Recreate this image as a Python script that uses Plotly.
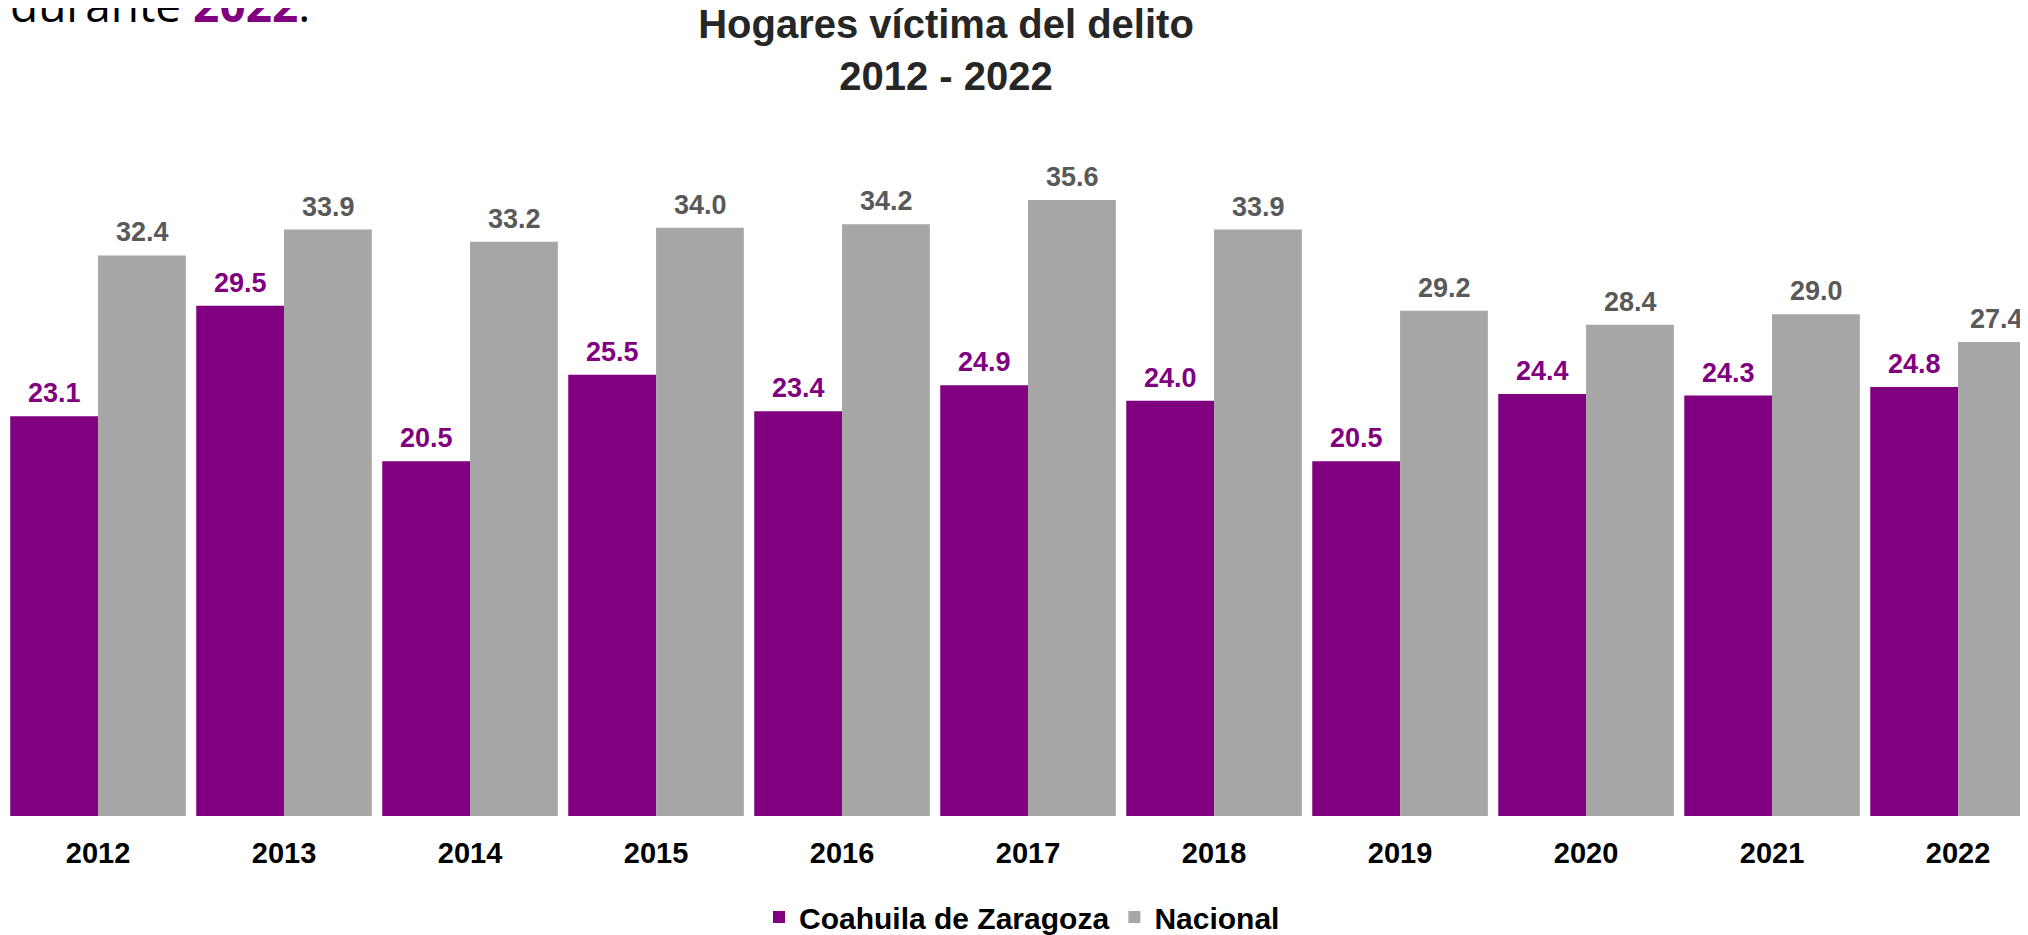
import plotly.graph_objects as go

years = ["2012", "2013", "2014", "2015", "2016", "2017", "2018", "2019", "2020", "2021", "2022"]
coahuila = [23.1, 29.5, 20.5, 25.5, 23.4, 24.9, 24.0, 20.5, 24.4, 24.3, 24.8]
nacional = [32.4, 33.9, 33.2, 34.0, 34.2, 35.6, 33.9, 29.2, 28.4, 29.0, 27.4]
series_names = ["Coahuila de Zaragoza", "Nacional"]

PURPLE = "#800080"
GRAY = "#A6A6A6"
LABEL_GRAY = "#595959"
FONT = "Arial, Liberation Sans, sans-serif"

fig = go.Figure()
fig.add_trace(go.Bar(
    x=years, y=coahuila, name=series_names[0],
    marker=dict(color=PURPLE, line=dict(width=0)),
))
fig.add_trace(go.Bar(
    x=years, y=nacional, name=series_names[1],
    marker=dict(color=GRAY, line=dict(width=0)),
))

annotations = []
for series, shift, color in ((coahuila, -44, PURPLE), (nacional, 44, LABEL_GRAY)):
    n = len(series)
    for i, v in enumerate(series):
        xs = shift
        if shift > 0 and i == n - 1:
            xs = 38  # keep the last label inside the page edge
        annotations.append(dict(
            x=i, y=v, xref="x", yref="y", xshift=xs, yshift=6,
            text=f"<b>{v:.1f}</b>", showarrow=False,
            xanchor="center", yanchor="bottom",
            font=dict(family=FONT, size=27, color=color),
        ))

annotations.append(dict(
    text="durante <b><span style='color:#800080'>2022</span></b>.",
    xref="paper", yref="paper", x=0, y=(818 - 28) / 702,
    xanchor="left", yanchor="bottom", showarrow=False,
    font=dict(family="Open Sans", size=46, color="black"),
))

fig.update_layout(
    width=2028, height=935,
    margin=dict(l=0, r=0, t=116, b=117),
    paper_bgcolor="white", plot_bgcolor="white",
    barmode="group", bargap=0.056, bargroupgap=0,
    title=dict(
        text="<b>Hogares víctima del delito<br>2012 - 2022</b>",
        x=938 / 2028, xanchor="center", xref="container",
        y=1 - 30 / 935, yanchor="top", yref="container",
        font=dict(family=FONT, size=40, color="#262626"),
    ),
    showlegend=True,
    legend=dict(
        orientation="h", x=0.5, xanchor="center", y=-0.1467, yanchor="middle",
        font=dict(family=FONT, size=30, color="black", weight="bold"),
        itemwidth=30, traceorder="normal",
    ),
    xaxis=dict(
        type="category", range=[-0.484, 10.419],
        showgrid=False, showline=False, zeroline=False, ticks="",
        ticklabelstandoff=17,
        tickfont=dict(family=FONT, size=29, color="black", weight="bold"),
    ),
    yaxis=dict(
        range=[0, 40], visible=False, showgrid=False, zeroline=False,
    ),
    annotations=annotations,
)

fig.write_html("out.html")
